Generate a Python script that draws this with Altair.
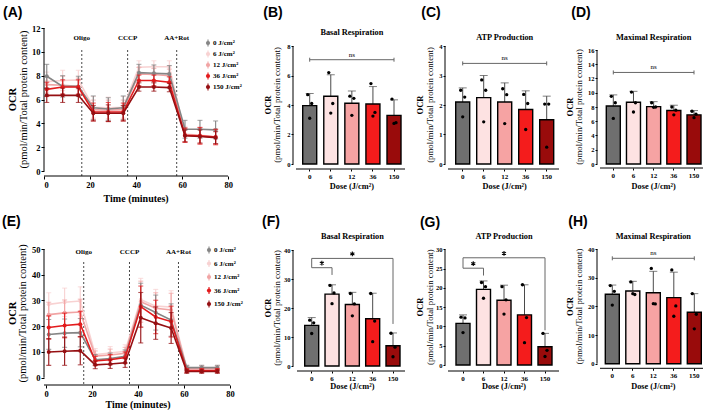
import altair as alt
import pandas as pd

SERIF = "Liberation Serif"
SANS = "Liberation Sans"

# ---------------- data ----------------
DOSES = ["0", "6", "12", "36", "150"]
SERIES = ["0 J/cm²", "6 J/cm²", "12 J/cm²", "36 J/cm²", "150 J/cm²"]
BAR_COLORS = ["#6f6f6f", "#fde2e2", "#f6a3a3", "#f41c1c", "#990b0b"]
LINE_COLORS = ["#858585", "#f8d2d2", "#f1a4a4", "#e31a1c", "#950f12"]
DRAW_ORDER = [1, 2, 0, 3, 4]

TIME = [1.2, 8.1, 14.9, 21.4, 27.9, 34.4, 41.2, 47.7, 54.4, 61.2, 67.7, 74.5]
EVENT_TIME = [16.4, 36.3, 57.6]
EVENT_LABEL = ["Oligo", "CCCP", "AA+Rot"]

# (A) OCR time course, mean and SD per dose
A_0 = [7.95, 7.1, 7.1, 5.3, 5.2, 5.3, 8.25, 8.2, 8.15, 3.5, 3.5, 3.45]
A_6 = [7.5, 7.6, 7.65, 5.35, 5.3, 5.35, 8.7, 8.75, 8.75, 3.1, 3.0, 2.9]
A_12 = [7.25, 7.2, 7.1, 5.15, 5.1, 5.15, 8.15, 8.1, 8.0, 3.05, 2.95, 2.85]
A_36 = [6.85, 7.05, 7.05, 4.95, 4.95, 4.95, 7.6, 7.6, 7.45, 3.0, 2.95, 2.85]
A_150 = [6.35, 6.35, 6.35, 4.85, 4.85, 4.85, 7.05, 7.05, 7.0, 2.95, 2.9, 2.8]
A_SD_0 = [1.0, 0.9, 0.85, 1.0, 0.95, 1.0, 0.7, 0.7, 0.7, 0.75, 0.75, 0.75]
A_SD_6 = [0.8, 0.85, 0.8, 0.9, 0.9, 0.9, 0.55, 0.5, 0.5, 0.65, 0.7, 0.65]
A_SD_12 = [0.7, 0.75, 0.7, 0.8, 0.85, 0.8, 0.55, 0.5, 0.55, 0.6, 0.65, 0.6]
A_SD_36 = [0.6, 0.6, 0.6, 0.75, 0.8, 0.75, 0.45, 0.45, 0.45, 0.6, 0.7, 0.65]
A_SD_150 = [0.6, 0.6, 0.6, 0.65, 0.7, 0.65, 0.35, 0.35, 0.35, 0.5, 0.55, 0.5]

# (E) OCR time course, mean and SD per dose
E_0 = [16.8, 17.3, 17.5, 7.0, 7.4, 8.3, 28.2, 25.3, 22.4, 3.9, 3.9, 3.9]
E_6 = [28.5, 29.3, 29.8, 9.0, 9.6, 10.3, 30.3, 27.8, 27.5, 3.8, 3.8, 3.8]
E_12 = [24.5, 25.2, 25.5, 8.4, 8.8, 9.5, 29.5, 27.0, 26.3, 3.5, 3.5, 3.5]
E_36 = [19.5, 20.3, 20.8, 6.5, 7.0, 7.8, 27.6, 23.6, 21.8, 2.8, 2.8, 2.8]
E_150 = [10.0, 10.3, 10.5, 5.0, 5.3, 5.8, 23.3, 21.2, 19.3, 2.4, 2.4, 2.4]
E_SD_0 = [5.8, 5.5, 5.5, 2.0, 2.2, 2.5, 8.5, 6.8, 6.3, 0.9, 0.9, 0.9]
E_SD_6 = [4.5, 5.5, 5.5, 2.3, 2.5, 2.5, 8.3, 6.5, 6.3, 1.0, 1.0, 1.0]
E_SD_12 = [4.8, 5.0, 5.0, 2.0, 2.3, 2.3, 8.0, 6.0, 6.5, 0.9, 0.9, 0.9]
E_SD_36 = [4.5, 4.8, 5.0, 1.8, 2.0, 2.2, 8.0, 6.5, 6.0, 0.8, 0.8, 0.8]
E_SD_150 = [5.2, 5.5, 5.5, 1.5, 1.7, 1.8, 9.8, 6.3, 6.0, 0.7, 0.7, 0.7]

# Bar summaries: mean, top of SD whisker, individual replicates
B_MEAN = [3.96, 4.59, 4.12, 4.07, 3.3]
B_TOP = [4.78, 6.05, 4.95, 5.25, 4.35]
B_DOTS = [[4.7, 4.1, 3.1], [6.2, 4.1, 3.45], [4.6, 4.45, 3.3], [5.45, 3.5, 3.25], [4.4, 2.8, 2.75]]

C_MEAN = [2.1, 2.25, 2.1, 1.85, 1.5]
C_TOP = [2.58, 3.0, 2.75, 2.48, 2.3]
C_DOTS = [[2.5, 2.27, 1.6], [2.85, 2.5, 1.43], [2.55, 2.35, 1.37], [2.36, 2.05, 1.17], [2.03, 2.03, 0.57]]

D_MEAN = [8.15, 8.66, 8.05, 7.5, 6.9]
D_TOP = [9.7, 10.2, 8.75, 8.25, 7.5]
D_DOTS = [[9.5, 8.6, 6.4], [10.1, 8.6, 7.3], [8.6, 8.0, 7.95], [8.0, 7.55, 6.9], [7.4, 7.0, 6.5]]

F_MEAN = [14.0, 24.8, 21.2, 16.3, 7.0]
F_TOP = [16.7, 28.0, 25.4, 25.1, 11.4]
F_DOTS = [[15.8, 14.9, 11.2], [27.8, 25.2, 21.5], [25.0, 21.4, 17.3], [25.0, 15.5, 8.4], [11.3, 6.5, 3.2]]

G_MEAN = [10.8, 19.6, 16.8, 13.0, 4.75]
G_TOP = [13.0, 21.8, 20.7, 20.8, 8.2]
G_DOTS = [[12.4, 12.2, 8.4], [21.4, 20.3, 17.3], [20.3, 16.9, 13.2], [20.8, 12.3, 5.8], [8.2, 3.8, 2.2]]

H_MEAN = [24.3, 25.4, 24.8, 23.1, 18.0]
H_TOP = [27.5, 28.8, 32.3, 32.0, 24.5]
H_DOTS = [[27.3, 25.3, 20.5], [28.6, 24.2, 24.5], [33.3, 20.9, 21.0], [32.8, 20.2, 16.6], [24.5, 17.3, 12.2]]

# Comparison brackets: (from bar, to bar, level, leg end at from, leg end at to)
F_STARS = [(0, 1, 33.9, 33.9, 31.4), (0, 4, 37.1, 33.9, 14.5)]
G_STARS = [(0, 1, 25.1, 25.1, 23.2), (0, 4, 27.8, 25.1, 9.0)]

# ---------------- layout (pixel geometry of each panel) ----------------
BAR_W = 14
DOT_OFFSETS = [-2, 2, 0]
COL_GAP = 30
COL_LEFT = [44, 293, 445, 597]
RIGHT_EDGE = 705
ROW_TOP = [28, 249]

GEO_A = dict(L=COL_LEFT[0], R=COL_LEFT[1] - COL_GAP, T=28, B=176, ptop=28, pzero=171, x0=44, x80=228.3,
             xend=228, ev_label=38, ev_top=50, legx=208, legy=43, leggap=11,
             ttl_y=199, ocr_x=13, sub_x=24, let_x=3, let_y=13)
GEO_E = dict(L=COL_LEFT[0], R=COL_LEFT[1] - COL_GAP, T=249, B=385, ptop=249, pzero=377.7, x0=46, x80=230,
             xend=230, ev_label=252, ev_top=262, legx=209, legy=250, leggap=13.5,
             ttl_y=405, ocr_x=13, sub_x=23, let_x=2, let_y=222)

GEO_B = dict(L=COL_LEFT[1], R=COL_LEFT[2] - COL_GAP, T=28, B=169, ptop=46, pzero=164, c0=309.7, c4=394,
             xl0=296, xl1=405, title_y=33, dose_y=187, ocr_x=268, sub_x=277, let_x=273, let_y=13)
GEO_C = dict(L=COL_LEFT[2], R=COL_LEFT[3] - COL_GAP, T=28, B=169, ptop=46, pzero=164, c0=462.7, c4=546.7,
             xl0=448, xl1=559, title_y=38, dose_y=187, ocr_x=420, sub_x=430, let_x=431, let_y=13)
GEO_D = dict(L=COL_LEFT[3], R=RIGHT_EDGE, T=28, B=168, ptop=50, pzero=164, c0=613.3, c4=694,
             xl0=600, xl1=703, title_y=38, dose_y=187, ocr_x=570, sub_x=578.5, let_x=581, let_y=13)
GEO_F = dict(L=COL_LEFT[1], R=COL_LEFT[2] - COL_GAP, T=249, B=371, ptop=250, pzero=366, c0=311.7, c4=393,
             xl0=297, xl1=405, title_y=237, dose_y=387, ocr_x=268, sub_x=277, let_x=271, let_y=222)
GEO_G = dict(L=COL_LEFT[2], R=COL_LEFT[3] - COL_GAP, T=249, B=371, ptop=249.3, pzero=365, c0=463, c4=545,
             xl0=448, xl1=559, title_y=237, dose_y=387, ocr_x=420, sub_x=430, let_x=430, let_y=223)
GEO_H = dict(L=COL_LEFT[3], R=RIGHT_EDGE, T=249, B=368.3, ptop=249.3, pzero=363.7, c0=612.3, c4=694.3,
             xl0=600, xl1=703, title_y=237, dose_y=387, ocr_x=569.5, sub_x=579, let_x=578, let_y=222)

ONE = pd.DataFrame({"_": [0]})


def txt(s, x, y, size, weight="bold", font=SERIF, angle=0, align="center", baseline="middle", color="black"):
    return alt.Chart(pd.DataFrame({"t": [s]})).mark_text(
        font=font, fontSize=size, fontWeight=weight, angle=angle, align=align,
        baseline=baseline, color=color,
    ).encode(x=alt.value(x), y=alt.value(y), text="t:N")


def star(x, y):
    # significance asterisk drawn as a small six-spoke glyph
    return alt.Chart(ONE).mark_point(
        shape="M0,-1L0,1M-0.87,-0.5L0.87,0.5M-0.87,0.5L0.87,-0.5",
        size=22, stroke="black", strokeWidth=1.1, filled=False, opacity=1,
    ).encode(x=alt.value(x), y=alt.value(y))


def hline(x0, x1, y, color="black", width=1.0):
    return alt.Chart(ONE).mark_rule(color=color, strokeWidth=width).encode(
        x=alt.value(x0), x2=alt.value(x1), y=alt.value(y))


def vline(x, y0, y1, color="black", width=1.0):
    return alt.Chart(ONE).mark_rule(color=color, strokeWidth=width).encode(
        x=alt.value(x), y=alt.value(y0), y2=alt.value(y1))


def y_titles(g, ymid, ocr_size, sub_size):
    return [
        txt("OCR", g["ocr_x"] - g["L"], ymid, ocr_size, angle=270),
        txt("(pmol/min/Total protein content)", g["sub_x"] - g["L"], ymid, sub_size,
            weight="normal", angle=270),
    ]


def bar_panel(g, title, means, tops, dots, yticks, letter, ns=None, stars=()):
    W, H = g["R"] - g["L"], g["B"] - g["T"]
    vmax = yticks[-1]
    upp = vmax / (g["pzero"] - g["ptop"])
    dom = [-(g["B"] - g["pzero"]) * upp, vmax + (g["ptop"] - g["T"]) * upp]

    def py(v):
        return g["pzero"] - g["T"] - v / upp

    first, last = g["c0"] - g["L"], g["c4"] - g["L"]
    step = (last - first) / 4
    p_in = 1 - BAR_W / step
    p_out = min(1.0, max(0.0, (W / step - 5 + p_in) / 2))
    step = W / (5 - p_in + 2 * p_out)
    align = min(1.0, max(0.0, (first - BAR_W / 2) / (W - step * (5 - p_in))))
    start = (W - step * (5 - p_in)) * align
    cx = [start + BAR_W / 2 + i * step for i in range(5)]

    X = alt.X("Dose:N", sort=DOSES,
              scale=alt.Scale(domain=DOSES, paddingInner=p_in, paddingOuter=p_out, align=align, round=False),
              axis=alt.Axis(title=None, domain=False, tickSize=2, labelAngle=0, labelFontSize=7,
                            labelPadding=1, labelFont=SERIF, labelFontWeight="bold"))
    ysc = alt.Scale(domain=dom, nice=False, zero=False)
    yax = alt.Axis(title=None, values=yticks, domain=False, grid=False, tickSize=2, labelPadding=1,
                   labelFontSize=6.5, labelFont=SERIF, labelFontWeight="bold")

    base = alt.Chart(pd.DataFrame({"Dose": DOSES, "mean": means, "top": tops}))
    bars = base.mark_bar(stroke="black", strokeWidth=1.4).encode(
        x=X, y=alt.Y("mean:Q", scale=ysc, axis=yax), y2=alt.datum(0),
        color=alt.Color("Dose:N", scale=alt.Scale(domain=DOSES, range=BAR_COLORS), legend=None))
    err = base.mark_rule(color="#4a4a4a", strokeWidth=1).encode(
        x=X, y=alt.Y("mean:Q", scale=ysc, axis=yax), y2="top:Q")
    cap = base.mark_tick(orient="horizontal", size=8, thickness=1, color="#4a4a4a").encode(
        x=X, y=alt.Y("top:Q", scale=ysc, axis=yax))
    layers = [err, cap, bars]
    for r, off in enumerate(DOT_OFFSETS):
        ddf = pd.DataFrame({"Dose": DOSES, "v": [d[r] for d in dots]})
        layers.append(alt.Chart(ddf).mark_circle(size=11, color="black", opacity=1).encode(
            x=X, y=alt.Y("v:Q", scale=ysc, axis=yax), xOffset=alt.value(BAR_W / 2 + off)))

    # offset axis lines
    layers.append(vline(0, py(0), py(vmax)))
    layers.append(hline(g["xl0"] - g["L"], g["xl1"] - g["L"], H))

    if ns is not None:
        yl = py(ns)
        layers += [hline(cx[0], cx[4], yl, color="#666"),
                   vline(cx[0], yl - 2, yl + 2, color="#666"),
                   vline(cx[4], yl - 2, yl + 2, color="#666"),
                   txt("ns", (cx[0] + cx[4]) / 2, yl - 2, 7, weight="normal", baseline="bottom")]
    for i, j, lev, li, lj in stars:
        yl = py(lev)
        layers += [hline(cx[i], cx[j], yl, color="#666"),
                   vline(cx[j], yl, py(lj), color="#666"),
                   star((cx[i] + cx[j]) / 2, yl - 4.5)]
        if li != lev:
            layers.append(vline(cx[i], yl, py(li), color="#666"))

    mid_c = (cx[0] + cx[4]) / 2
    ymid = (py(0) + py(vmax)) / 2
    layers += [txt(title, mid_c, g["title_y"] - g["T"], 8.3),
               txt("Dose (J/cm²)", mid_c, g["dose_y"] - g["T"], 8.3),
               txt(letter, g["let_x"] - g["L"], g["let_y"] - g["T"], 14, font=SANS)]
    layers += y_titles(g, ymid, 8.5, 8.8)
    return alt.layer(*layers).properties(width=W, height=H)


def line_panel(g, means, sds, yticks, letter, anchor=False):
    W, H = g["R"] - g["L"], g["B"] - g["T"]
    vmax = yticks[-1]
    upp = vmax / (g["pzero"] - g["ptop"])
    ydom = [-(g["B"] - g["pzero"]) * upp, vmax + (g["ptop"] - g["T"]) * upp]
    ppu = (g["x80"] - g["x0"]) / 80
    xdom = [(g["L"] - g["x0"]) / ppu, (g["R"] - g["x0"]) / ppu]

    def py(v):
        return g["pzero"] - g["T"] - v / upp

    xsc = alt.Scale(domain=xdom, nice=False, zero=False)
    xax = alt.Axis(title=None, values=[0, 20, 40, 60, 80], domain=False, grid=False, tickSize=3,
                   labelPadding=1, labelFontSize=8.5, labelFont=SERIF, labelFontWeight="bold")
    ysc = alt.Scale(domain=ydom, nice=False, zero=False)
    yax = alt.Axis(title=None, values=yticks, domain=False, grid=False, tickSize=3, labelPadding=1,
                   labelFontSize=8.5, labelFont=SERIF, labelFontWeight="bold")
    X = alt.X("Time:Q", scale=xsc, axis=xax)

    layers = []
    if anchor:
        layers.append(alt.Chart(ONE).mark_rule(opacity=0, strokeOpacity=0).encode(
            x=alt.value(-g["L"]), y=alt.value(-g["T"]), x2=alt.value(-g["L"] + 1), y2=alt.value(-g["T"] + 1)))

    # treatment injections
    ev = pd.DataFrame({"t": EVENT_TIME, "lab": EVENT_LABEL})
    layers.append(alt.Chart(ev).mark_rule(color="#333", strokeWidth=0.9, strokeDash=[2, 2]).encode(
        x=alt.X("t:Q", scale=xsc, axis=xax), y=alt.value(g["ev_top"] - g["T"]), y2=alt.value(H)))
    layers.append(alt.Chart(ev).mark_text(font=SERIF, fontSize=7, fontWeight="bold", color="black").encode(
        x=alt.X("t:Q", scale=xsc, axis=xax), y=alt.value(g["ev_label"] - g["T"]), text="lab:N"))

    for k in DRAW_ORDER:
        col = LINE_COLORS[k]
        df = pd.DataFrame({"Time": TIME, "mean": means[k],
                           "lo": [m - s for m, s in zip(means[k], sds[k])],
                           "hi": [m + s for m, s in zip(means[k], sds[k])]})
        b = alt.Chart(df)
        layers += [
            b.mark_rule(color=col, strokeWidth=1.1).encode(x=X, y=alt.Y("lo:Q", scale=ysc, axis=yax), y2="hi:Q"),
            b.mark_tick(orient="horizontal", size=5, thickness=1.1, color=col).encode(
                x=X, y=alt.Y("lo:Q", scale=ysc, axis=yax)),
            b.mark_tick(orient="horizontal", size=5, thickness=1.1, color=col).encode(
                x=X, y=alt.Y("hi:Q", scale=ysc, axis=yax)),
            b.mark_line(color=col, strokeWidth=1.6).encode(x=X, y=alt.Y("mean:Q", scale=ysc, axis=yax)),
            b.mark_circle(color=col, size=16, opacity=1).encode(x=X, y=alt.Y("mean:Q", scale=ysc, axis=yax)),
        ]

    layers.append(vline(0, py(0), py(vmax)))
    layers.append(hline(0, g["xend"] - g["L"], H))

    # legend
    lx = g["legx"] - g["L"]
    for i, (name, col) in enumerate(zip(SERIES, LINE_COLORS)):
        ly = g["legy"] - g["T"] + i * g["leggap"]
        layers += [vline(lx, ly - 3.5, ly + 3.5, color=col, width=1.1),
                   alt.Chart(ONE).mark_circle(color=col, size=18, opacity=1).encode(
                       x=alt.value(lx), y=alt.value(ly)),
                   txt(name, lx + 5, ly, 7, align="left")]

    x_mid = (40 - xdom[0]) * ppu
    layers += [txt("Time (minutes)", x_mid, g["ttl_y"] - g["T"], 10),
               txt(letter, g["let_x"] - g["L"], g["let_y"] - g["T"], 14, font=SANS, align="left")]
    layers += y_titles(g, (py(0) + py(vmax)) / 2, 10.5, 10.5)
    return alt.layer(*layers).properties(width=W, height=H)


panel_a = line_panel(GEO_A, [A_0, A_6, A_12, A_36, A_150], [A_SD_0, A_SD_6, A_SD_12, A_SD_36, A_SD_150],
                     [0, 2, 4, 6, 8, 10, 12], "(A)", anchor=True)
panel_e = line_panel(GEO_E, [E_0, E_6, E_12, E_36, E_150], [E_SD_0, E_SD_6, E_SD_12, E_SD_36, E_SD_150],
                     [0, 10, 20, 30, 40, 50], "(E)")

panel_b = bar_panel(GEO_B, "Basal Respiration", B_MEAN, B_TOP, B_DOTS, [0, 2, 4, 6, 8], "(B)", ns=7.07)
panel_c = bar_panel(GEO_C, "ATP Production", C_MEAN, C_TOP, C_DOTS, [0, 1, 2, 3, 4], "(C)", ns=3.41)
panel_d = bar_panel(GEO_D, "Maximal Respiration", D_MEAN, D_TOP, D_DOTS, list(range(0, 17, 2)), "(D)", ns=12.85)
panel_f = bar_panel(GEO_F, "Basal Respiration", F_MEAN, F_TOP, F_DOTS, [0, 10, 20, 30, 40], "(F)", stars=F_STARS)
panel_g = bar_panel(GEO_G, "ATP Production", G_MEAN, G_TOP, G_DOTS, [0, 5, 10, 15, 20, 25, 30], "(G)", stars=G_STARS)
panel_h = bar_panel(GEO_H, "Maximal Respiration", H_MEAN, H_TOP, H_DOTS, [0, 10, 20, 30, 40], "(H)", ns=36.85)

# 2 x 4 grid of plot areas
chart = alt.concat(
    panel_a, panel_b, panel_c, panel_d, panel_e, panel_f, panel_g, panel_h,
    columns=4,
    spacing=alt.RowColnumber(row=ROW_TOP[1] - GEO_A["B"], column=COL_GAP),
    bounds="flush",
).properties(padding=0, background="white").configure_view(stroke=None).configure_axis(
    labelColor="black", tickColor="black", tickWidth=1)

chart.save("out.html", embed_options={"renderer": "svg", "actions": False})
